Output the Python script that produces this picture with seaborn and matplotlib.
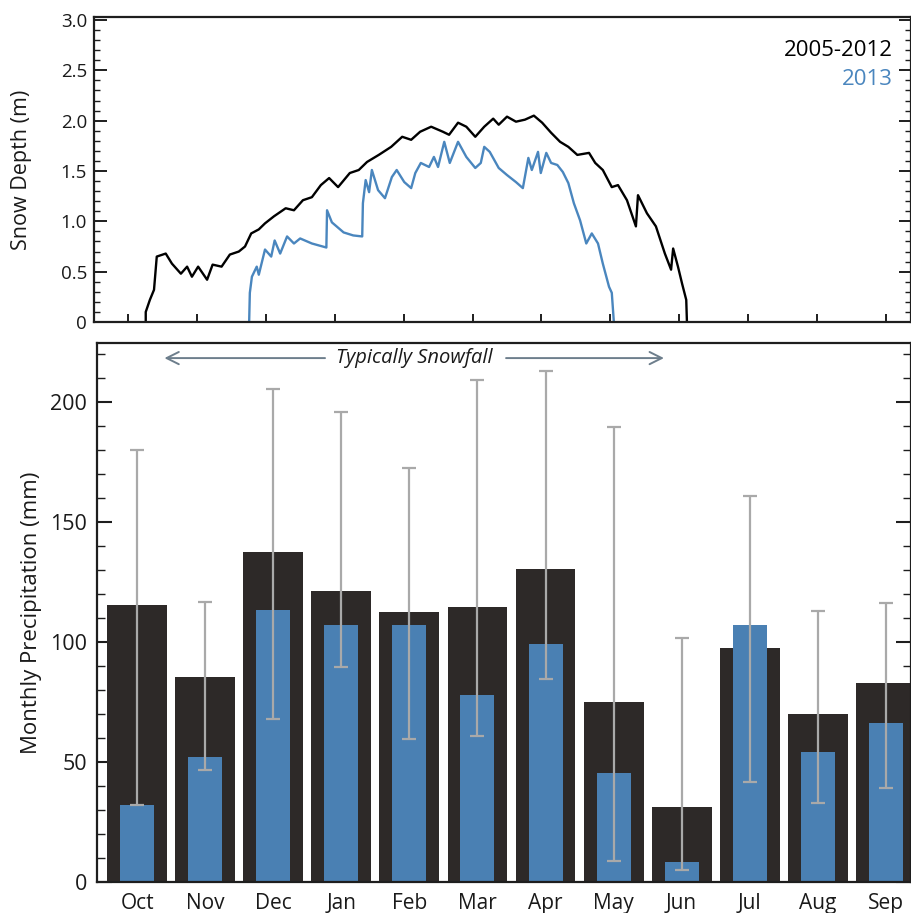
import numpy as np
import pandas as pd
import matplotlib
matplotlib.use("Agg")
import matplotlib.pyplot as plt
import seaborn as sns
from matplotlib.ticker import MultipleLocator, FixedLocator, FuncFormatter

# ---------------- data ----------------
months = ["Oct", "Nov", "Dec", "Jan", "Feb", "Mar",
          "Apr", "May", "Jun", "Jul", "Aug", "Sep"]
precip_mean = [115.5, 85.4, 137.5, 121.3, 112.5, 114.5,
               130.4, 75.0, 31.3, 97.5, 70.0, 82.9]
precip_2013 = [32.0, 52.1, 113.3, 107.1, 107.1, 77.9,
               99.2, 45.4, 8.3, 107.1, 54.2, 66.2]
precip_min = [32.0, 46.7, 67.9, 89.6, 59.6, 60.8,
              84.6, 8.8, 5.0, 41.7, 32.9, 39.2]
precip_max = [180.0, 116.7, 205.4, 195.8, 172.5, 209.2,
              212.9, 189.6, 101.7, 160.8, 112.9, 116.3]

# snow depth, x = position in months from start of October
snow_avg_t = [0.26, 0.26, 0.32, 0.38, 0.42, 0.55, 0.64, 0.77, 0.86, 0.93,
              1.02, 1.15, 1.23, 1.36, 1.48, 1.61, 1.70, 1.79, 1.90, 1.99,
              2.12, 2.29, 2.41, 2.54, 2.67, 2.80, 2.92, 3.05, 3.22, 3.35,
              3.47, 3.64, 3.82, 3.98, 4.11, 4.24, 4.40, 4.57, 4.66, 4.79,
              4.91, 5.04, 5.17, 5.30, 5.38, 5.50, 5.63, 5.76, 5.89, 6.01,
              6.14, 6.27, 6.39, 6.52, 6.69, 6.78, 6.89, 7.02, 7.11, 7.24,
              7.37, 7.40, 7.53, 7.66, 7.79, 7.88, 7.91, 7.98, 8.04, 8.10,
              8.11]
snow_avg_d = [0.00, 0.10, 0.22, 0.32, 0.65, 0.68, 0.58, 0.48, 0.55, 0.45,
              0.55, 0.42, 0.57, 0.55, 0.67, 0.70, 0.75, 0.88, 0.92, 0.98,
              1.05, 1.13, 1.11, 1.21, 1.24, 1.36, 1.43, 1.34, 1.48, 1.51,
              1.59, 1.66, 1.74, 1.84, 1.81, 1.89, 1.94, 1.89, 1.86, 1.98,
              1.94, 1.84, 1.94, 2.02, 1.96, 2.04, 1.99, 2.01, 2.05, 1.98,
              1.88, 1.79, 1.74, 1.66, 1.68, 1.58, 1.51, 1.34, 1.36, 1.21,
              0.95, 1.26, 1.08, 0.95, 0.68, 0.52, 0.73, 0.55, 0.38, 0.22,
              0.00]

snow_2013_t = [1.76, 1.77, 1.80, 1.87, 1.90, 1.99, 2.08, 2.13, 2.21, 2.31,
               2.41, 2.50, 2.67, 2.88, 2.89, 2.96, 3.13, 3.27, 3.40, 3.41,
               3.45, 3.50, 3.54, 3.63, 3.73, 3.83, 3.90, 4.01, 4.11, 4.17,
               4.25, 4.37, 4.44, 4.50, 4.59, 4.67, 4.79, 4.91, 5.04, 5.12,
               5.17, 5.25, 5.38, 5.50, 5.63, 5.73, 5.81, 5.86, 5.95, 5.99,
               6.07, 6.14, 6.23, 6.31, 6.39, 6.47, 6.56, 6.65, 6.73, 6.82,
               6.89, 6.98, 7.02, 7.05]
snow_2013_d = [0.00, 0.29, 0.45, 0.55, 0.47, 0.72, 0.65, 0.81, 0.68, 0.85,
               0.78, 0.83, 0.78, 0.74, 1.11, 0.99, 0.89, 0.86, 0.85, 1.18,
               1.41, 1.29, 1.51, 1.31, 1.23, 1.44, 1.51, 1.39, 1.33, 1.48,
               1.58, 1.54, 1.64, 1.54, 1.79, 1.58, 1.79, 1.64, 1.53, 1.58,
               1.74, 1.69, 1.53, 1.46, 1.39, 1.33, 1.63, 1.51, 1.69, 1.48,
               1.68, 1.58, 1.56, 1.49, 1.38, 1.18, 1.01, 0.78, 0.88, 0.78,
               0.58, 0.35, 0.29, 0.00]

labels_2005 = "2005-2012"
labels_2013 = "2013"
annot_text = "Typically Snowfall"

# ---------------- style ----------------
sns.set_style("ticks")
plt.rcParams["font.family"] = ["Open Sans", "DejaVu Sans"]

DARK = "#2d2928"
BLUE = "#4a80b3"
LBLUE = "#4a86be"
GRAY = "#a9a9a9"
ARROW = "#6d7e8c"
SPINE = "#1e1e1e"
TXT = "#1a1a1a"

fig = plt.figure(figsize=(9.12, 9.13), dpi=100)
ax1 = fig.add_axes([0.1031, 0.6473, 0.8958, 0.3341])
ax2 = fig.add_axes([0.1064, 0.03395, 0.8925, 0.5904])

# ---------------- top panel ----------------
df_avg = pd.DataFrame({"t": snow_avg_t, "d": snow_avg_d})
df_13 = pd.DataFrame({"t": snow_2013_t, "d": snow_2013_d})
sns.lineplot(data=df_avg, x="t", y="d", sort=False, estimator=None,
             color="black", linewidth=1.7, ax=ax1)
sns.lineplot(data=df_13, x="t", y="d", sort=False, estimator=None,
             color=LBLUE, linewidth=1.7, ax=ax1)
ax1.set_xlim(-0.49, 11.36)
ax1.set_ylim(0, 3.03)
ax1.xaxis.set_major_locator(FixedLocator(list(range(12))))
ax1.set_xticklabels([])
ax1.yaxis.set_major_locator(MultipleLocator(0.5))
ax1.yaxis.set_minor_locator(MultipleLocator(0.1))
ax1.yaxis.set_major_formatter(FuncFormatter(lambda v, p: "0" if abs(v) < 1e-9 else f"{v:.1f}"))
ax1.tick_params(axis="y", which="major", direction="in", length=9, width=1.4,
                right=True, labelsize=13.5, colors=SPINE, pad=5)
ax1.tick_params(axis="y", which="minor", direction="in", length=4.5, width=1.0, right=True,
                colors=SPINE)
ax1.tick_params(axis="x", which="major", direction="in", length=6, width=1.4, colors=SPINE)
for lab in ax1.get_yticklabels():
    lab.set_color(TXT)
ax1.set_xlabel("")
ax1.set_ylabel("Snow Depth (m)", fontsize=15.5, color=TXT)
ax1.yaxis.set_label_coords(-0.076, 0.5)
for s in ax1.spines.values():
    s.set_linewidth(1.6)
    s.set_color(SPINE)
ax1.text(0.978, 2.70, labels_2005, transform=ax1.get_yaxis_transform(),
         ha="right", va="center", fontsize=16, color="black")
ax1.text(0.978, 2.41, labels_2013, transform=ax1.get_yaxis_transform(),
         ha="right", va="center", fontsize=16, color=LBLUE)

# ---------------- bottom panel ----------------
df_p = pd.DataFrame({"month": months, "mean": precip_mean, "y2013": precip_2013})
sns.barplot(data=df_p, x="month", y="mean", order=months, color=DARK,
            saturation=1, width=0.88, ax=ax2, linewidth=0, zorder=2)
sns.barplot(data=df_p, x="month", y="y2013", order=months, color=BLUE,
            saturation=1, width=0.5, ax=ax2, linewidth=0, zorder=3)
pos = np.arange(len(months))
mean_arr = np.array(precip_mean)
yerr = [mean_arr - np.array(precip_min), np.array(precip_max) - mean_arr]
ax2.errorbar(pos, mean_arr, yerr=yerr, fmt="none", ecolor=GRAY,
             elinewidth=1.6, capsize=5, capthick=1.6, zorder=4)
ax2.set_xlim(-0.59, 11.37)
ax2.set_ylim(0, 224.6)
ax2.yaxis.set_major_locator(FixedLocator([0, 50, 100, 150, 200]))
ax2.yaxis.set_minor_locator(MultipleLocator(10))
ax2.tick_params(axis="y", which="major", direction="in", length=11, width=1.5,
                right=True, labelsize=15.5, colors=SPINE, pad=7)
ax2.tick_params(axis="y", which="minor", direction="in", length=5.5, width=1.0,
                right=True, colors=SPINE)
ax2.tick_params(axis="x", which="major", direction="in", length=5, width=1.5,
                labelsize=15, colors=SPINE, pad=8)
for lab in ax2.get_xticklabels():
    lab.set_color(TXT)
for lab in ax2.get_yticklabels():
    lab.set_color(TXT)
ax2.set_xlabel("")
ax2.set_ylabel("Monthly Precipitation (mm)", fontsize=16, color=TXT)
ax2.yaxis.set_label_coords(-0.068, 0.5)
for s in ax2.spines.values():
    s.set_linewidth(1.6)
    s.set_color(SPINE)
    s.set_zorder(6)

ax2.text(4.07, 218.3, annot_text, ha="center", va="center", fontsize=14.5,
         style="italic", color=TXT)
ax2.annotate("", xy=(0.40, 218.3), xytext=(2.76, 218.3),
             arrowprops=dict(arrowstyle="->", color=ARROW, lw=1.4, mutation_scale=22,
                             shrinkA=0, shrinkB=0))
ax2.annotate("", xy=(7.74, 218.3), xytext=(5.42, 218.3),
             arrowprops=dict(arrowstyle="->", color=ARROW, lw=1.4, mutation_scale=22,
                             shrinkA=0, shrinkB=0))

fig.savefig("out.png", dpi=100)
